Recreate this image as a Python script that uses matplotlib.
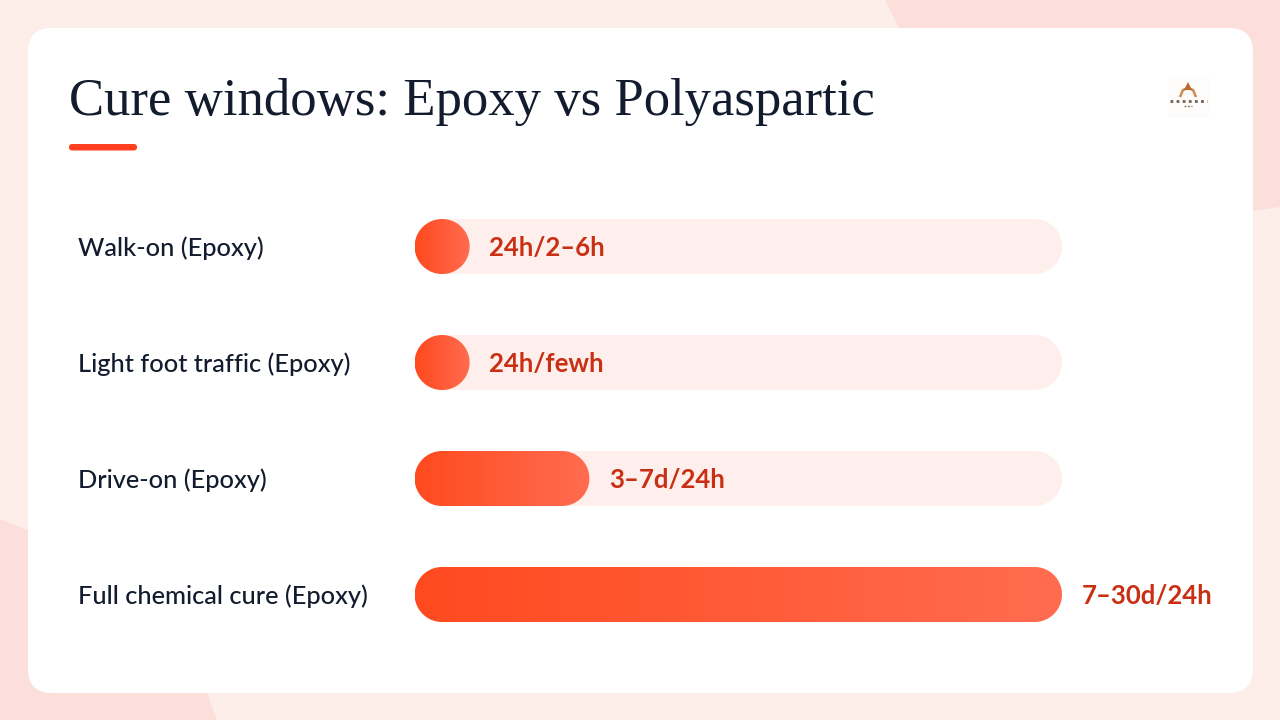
import numpy as np
import matplotlib
matplotlib.use("Agg")
import matplotlib.pyplot as plt
from matplotlib.patches import FancyBboxPatch, Polygon, PathPatch
from matplotlib.path import Path
from matplotlib.colors import LinearSegmentedColormap

categories = ["Walk-on (Epoxy)", "Light foot traffic (Epoxy)", "Drive-on (Epoxy)", "Full chemical cure (Epoxy)"]
values = [8.5, 8.5, 27, 100]
value_labels = ["24h/2–6h", "24h/fewh", "3–7d/24h", "7–30d/24h"]
title = "Cure windows: Epoxy vs Polyaspartic"

BASE, SHAPE = "#FEEEEA", "#FCDFDA"
INK, VALUE_INK, TRACK = "#131C2E", "#C92F12", "#FEEEEC"
grad = LinearSegmentedColormap.from_list("g", ["#FF4A1F", "#FF6C50"])

fig = plt.figure(figsize=(12.8, 7.2), dpi=100, facecolor=BASE)
bg = fig.add_axes([0, 0, 1, 1], zorder=0)
bg.set_xlim(0, 1280); bg.set_ylim(720, 0); bg.axis("off")
bg.add_patch(Polygon([(885, 0), (1280, 0), (1280, 207), (1253, 211), (1000, 240), (900, 30)], fc=SHAPE, ec="none"))
bg.add_patch(Polygon([(0, 519), (28, 530), (150, 600), (207, 693), (217, 720), (0, 720)], fc=SHAPE, ec="none"))
bg.add_patch(FancyBboxPatch((28, 28), 1225, 665, boxstyle="round,pad=0,rounding_size=24", fc="white", ec="none"))
bg.add_patch(FancyBboxPatch((69, 144), 68, 6.5, boxstyle="round,pad=0,rounding_size=3.2", fc="#FF3F1F", ec="none"))
bg.text(69, 115, title, fontsize=38, family="Liberation Serif", color=INK, ha="left", va="baseline")

# logo
bg.add_patch(FancyBboxPatch((1168, 76), 41, 42, boxstyle="round,pad=0,rounding_size=1", fc="#FDFCFB", ec="none"))
bg.add_patch(PathPatch(Path([(1180, 97), (1183, 90), (1188, 88), (1193, 90), (1196, 97)],
                            [Path.MOVETO, Path.LINETO, Path.LINETO, Path.LINETO, Path.LINETO]),
                       fc="none", ec="#D08A50", lw=1.8))
bg.add_patch(Polygon([(1184, 90), (1188, 82), (1192, 90)], fc="#B86A30", ec="none"))
bg.plot([1170, 1207], [101, 101], color="#4A3A33", lw=2.0, ls=(0, (1.0, 1.2)), alpha=0.8)
bg.plot([1184, 1192], [106, 106], color="#9A7A60", lw=1.0, ls=(0, (1.5, 1.0)))

# data axes: 0-100 over the track, one unit per row
ax = fig.add_axes([414.6 / 1280, 1 - 652.5 / 720, 647.4 / 1280, 464 / 720], zorder=1)
ax.patch.set_alpha(0)
ax.axis("off")
XPX, YPX = 6.474, 116.0
H = 55 / YPX
rows = np.arange(len(categories))

def pill(x0, x1, yc):
    ry = H / 2
    rx = min(27.5 / XPX, (x1 - x0) / 2)
    t = np.linspace(-np.pi / 2, np.pi / 2, 40)
    right = np.c_[x1 - rx + rx * np.cos(t), yc + ry * np.sin(t)]
    left = np.c_[x0 + rx - rx * np.cos(t[::-1]), yc + ry * np.sin(t[::-1])]
    return np.r_[right, left]

for i, (r, v, cat, lab) in enumerate(zip(rows, values, categories, value_labels)):
    ax.add_patch(Polygon(pill(0, 100, r), fc=TRACK, ec="none", zorder=1))
    im = ax.imshow(np.linspace(0, 1, 256)[None, :], extent=(0, v, r + H / 2, r - H / 2), cmap=grad,
                   aspect="auto", zorder=2, interpolation="bilinear")
    clip = Polygon(pill(0, v, r), fc="none", ec="none", transform=ax.transData)
    ax.add_patch(clip)
    im.set_clip_path(clip)
    ax.annotate(cat, xy=(0, r), xytext=(-336.6 * 0.72, -1.0), textcoords="offset points", ha="left", va="center",
                fontsize=18.3, family="Lato", color=INK, fontweight="medium")
    ax.annotate(lab, xy=(v, r), xytext=(19.6 * 0.72, -1.0), textcoords="offset points", ha="left", va="center",
                fontsize=18.55, family="Lato", color=VALUE_INK, fontweight="bold", annotation_clip=False, zorder=3)

ax.set_xlim(0, 100)
ax.set_ylim(len(categories) - 0.5, -0.5)
fig.savefig("out.png", dpi=100)
